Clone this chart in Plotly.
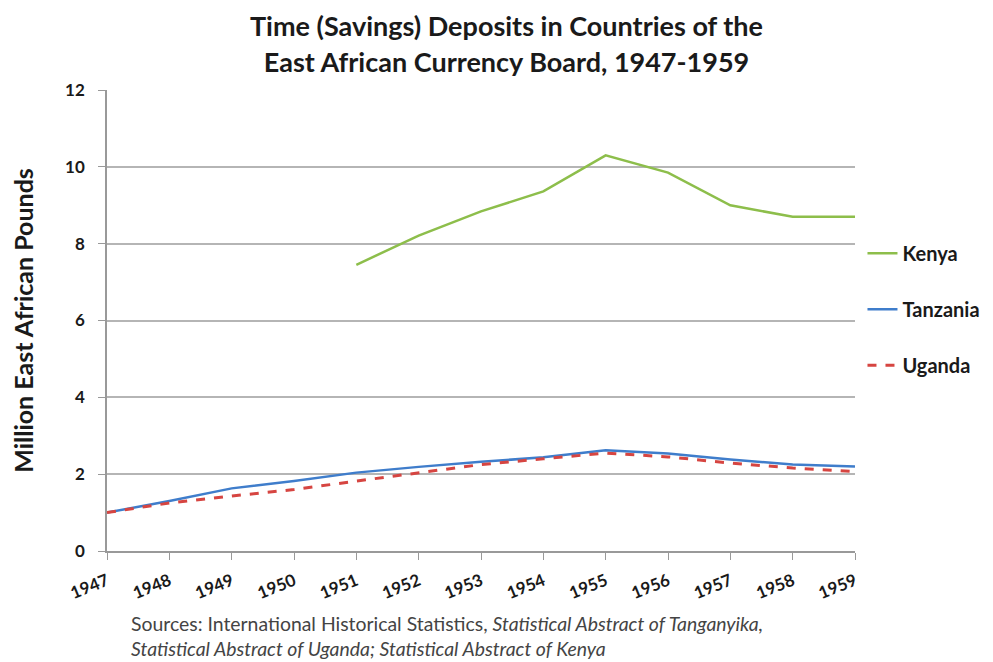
import plotly.graph_objects as go

years = list(range(1947, 1960))
kenya_years = list(range(1951, 1960))
kenya = [7.45, 8.21, 8.84, 9.36, 10.30, 9.85, 9.00, 8.70, 8.70]
tanzania = [1.00, 1.30, 1.63, 1.82, 2.04, 2.19, 2.32, 2.44, 2.62, 2.54, 2.38, 2.25, 2.20]
uganda = [1.00, 1.25, 1.43, 1.60, 1.82, 2.03, 2.25, 2.40, 2.55, 2.45, 2.29, 2.16, 2.07]
y_ticks = [0, 2, 4, 6, 8, 10, 12]

FONT = "Lato"

fig = go.Figure()
fig.add_trace(go.Scatter(x=kenya_years, y=kenya, name="Kenya", mode="lines",
                         line=dict(color="#8DBE4B", width=2.5), legendgroup="k"))
fig.add_trace(go.Scatter(x=years, y=tanzania, name="Tanzania", mode="lines",
                         line=dict(color="#3F7DCB", width=2.5), legendgroup="t"))
fig.add_trace(go.Scatter(x=years, y=uganda, name="Uganda", mode="lines",
                         line=dict(color="#D64541", width=3, dash="dash"), legendgroup="u"))

fig.update_layout(
    width=993, height=662,
    paper_bgcolor="white", plot_bgcolor="white",
    margin=dict(l=99, r=146, t=82, b=119),
    font=dict(family=FONT, color="#222"),
    title=dict(text="Time (Savings) Deposits in Countries of the<br>East African Currency Board, 1947-1959",
               x=0.502, xanchor="center", y=0.957, yanchor="top",
               font=dict(family=FONT, size=27, color="#1a1a1a", weight="bold")),
    legend=dict(x=1.01, y=0.688, xanchor="left", yanchor="top",
                font=dict(family=FONT, size=20, color="#1a1a1a", weight="bold"),
                tracegroupgap=27, bgcolor="rgba(0,0,0,0)"),
    showlegend=True,
)
fig.update_xaxes(
    range=[1947, 1959], tickmode="array", tickvals=years, ticktext=[str(y) for y in years],
    tickangle=-22, tickfont=dict(family=FONT, size=17, color="#1a1a1a", weight="bold"),
    showgrid=False, showline=True, linecolor="#999", linewidth=1.5,
    ticks="outside", ticklen=7, tickcolor="#999", tickwidth=1.2, zeroline=False,
    ticklabelstandoff=5,
)
fig.update_yaxes(
    range=[0, 12], tickmode="array", tickvals=y_ticks,
    tickfont=dict(family=FONT, size=17, color="#1a1a1a", weight="bold"),
    showgrid=True, gridcolor="#b5b5b5", gridwidth=1.5,
    showline=True, linecolor="#999", linewidth=1.5,
    ticks="outside", ticklen=7, tickcolor="#999", zeroline=False,
    ticklabelstandoff=10,
    title=dict(text="Million East African Pounds", standoff=26,
               font=dict(family=FONT, size=25, color="#1a1a1a", weight="bold")),
)
fig.add_annotation(
    text="Sources: International Historical Statistics, <i>Statistical Abstract of Tanganyika,</i><br><i>Statistical Abstract of Uganda; Statistical Abstract of Kenya</i>",
    xref="paper", yref="paper", x=(121 - 99) / 748, y=-0.128, xanchor="left", yanchor="top",
    align="left", showarrow=False,
    font=dict(family=FONT, size=19.4, color="#444"),
)

fig.write_html("out.html")
